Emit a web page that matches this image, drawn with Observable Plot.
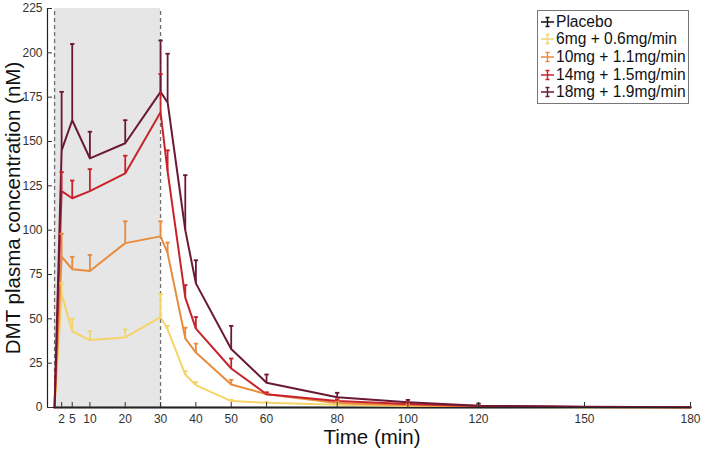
<!DOCTYPE html>
<html>
<head>
<meta charset="utf-8">
<script src="https://cdn.jsdelivr.net/npm/d3@7"></script>
<script src="https://cdn.jsdelivr.net/npm/@observablehq/plot@0.6"></script>
<style>
  html, body { margin: 0; padding: 0; background: #fff; }
  #wrap { position: relative; width: 706px; height: 455px; font-family: "Liberation Sans", Arial, Helvetica, sans-serif; }
  #legend { position: absolute; left: 537px; top: 10px; width: 150px; border: 1px solid #777; background: #fff; padding: 2px 0 2px 0; }
  #legend .row { display: flex; align-items: center; height: 17.6px; font-size: 15.6px; color: #111; white-space: nowrap; }
  #legend svg { margin: 0 1px 0 2px; }
</style>
</head>
<body>
<div id="wrap"><div id="chart"></div><div id="legend"></div></div>
<script>
// ---- data ----
const times = [0, 2, 5, 10, 20, 30, 32, 37, 40, 50, 60, 80, 100, 120, 150, 180];
const seriesNames = ["Placebo", "6mg + 0.6mg/min", "10mg + 1.1mg/min", "14mg + 1.5mg/min", "18mg + 1.9mg/min"];
const seriesColors = ["#111111", "#f4d468", "#e98a3c", "#c8232c", "#6b1834"];
const placebo     = [0, 0, 0, 0, 0, 0, 0, 0, 0, 0, 0, 0, 0, 0, 0, 0];
const placeboErr  = [null, null, null, null, null, null, null, null, null, null, null, null, null, null, null, null];
const dose6       = [0, 64, 43, 38, 39.5, 51, 44, 18.6, 12.6, 3.6, 2.7, 1.5, 0.8, 0.4, 0.2, 0.1];
const dose6Err    = [null, 70, 50, 43, 44, 64, 46, 20.5, 14.3, 4.3, 3.1, 2, null, null, null, null];
const dose10      = [0, 85, 78, 77, 92.7, 96.5, 87, 39, 31, 13, 7.5, 2.5, 1.3, 0.6, 0.3, 0.2];
const dose10Err   = [null, 98, 85, 86, 105, 105, 93, 45, 36, 15.6, 8.5, 3.2, 1.8, null, null, null];
const dose14      = [0, 122, 118, 122, 132, 166.5, 133, 62, 44.5, 22, 7.5, 3.6, 2, 0.8, 0.3, 0.2];
const dose14Err   = [null, 132.7, 128, 134.4, 142, 188, 145, 69, 51, 27.6, 8.5, 4.6, 3, 1.2, null, null];
const dose18      = [0, 145, 162, 140.5, 149, 178, 172, 100, 70, 33, 14, 5.8, 3, 1, 0.4, 0.2];
const dose18Err   = [null, 178, 205, 155.5, 162, 207, 199.5, 131, 83, 46, 18.6, 8.3, 4.3, 2.2, null, null];
const xTicks = [2, 5, 10, 20, 30, 40, 50, 60, 80, 100, 120, 150, 180];
const yTicks = [0, 25, 50, 75, 100, 125, 150, 175, 200, 225];
const infusion = [0, 30];
const xDomain = [-2, 180];
const yDomain = [0, 225];
const xLabel = "Time (min)";
const yLabel = "DMT plasma concentration (nM)";

// ---- build table ----
const allValues = [placebo, dose6, dose10, dose14, dose18];
const allErr = [placeboErr, dose6Err, dose10Err, dose14Err, dose18Err];
const rows = [];
seriesNames.forEach((s, i) => {
  times.forEach((t, j) => rows.push({series: s, t, v: allValues[i][j], err: allErr[i][j]}));
});
const errRows = rows.filter(d => d.err != null);

const capSymbol = { draw(ctx, size) { const r = Math.sqrt(size / Math.PI); ctx.moveTo(-r, 0); ctx.lineTo(r, 0); } };

const font = '"Liberation Sans", Arial, Helvetica, sans-serif';

const chart = Plot.plot({
  width: 706,
  height: 455,
  marginLeft: 47,
  marginRight: 16,
  marginTop: 8,
  marginBottom: 48,
  style: { fontFamily: font, background: "#fff", overflow: "visible" },
  x: { domain: xDomain },
  y: { domain: yDomain },
  color: { domain: seriesNames, range: seriesColors },
  marks: [
    Plot.rect([infusion], { x1: d => d[0], x2: d => d[1], y1: yDomain[0], y2: yDomain[1], fill: "#e6e6e6" }),
    Plot.ruleX(infusion, { y1: yDomain[0], y2: yDomain[1], stroke: "#6f6f6f", strokeWidth: 1.3, strokeDasharray: "4,3" }),
    Plot.line(rows, { x: "t", y: "v", z: "series", stroke: "series", strokeWidth: 2 }),
    Plot.ruleX(errRows, { x: "t", y1: "v", y2: "err", stroke: "series", strokeWidth: 1.8 }),
    Plot.dot(errRows, { x: "t", y: "err", stroke: "series", symbol: capSymbol, r: 2.2, strokeWidth: 1.8 }),
    Plot.ruleX([xDomain[0]], { y1: yDomain[0], y2: yDomain[1], stroke: "#222", strokeWidth: 1.2 }),
    Plot.ruleY([yDomain[0]], { x1: xDomain[0], x2: xDomain[1], stroke: "#222", strokeWidth: 1.2 }),
    Plot.axisX({ ticks: xTicks, tickSize: -5, tickPadding: 12, fontSize: 12, color: "#333", label: null }),
    Plot.axisY({ ticks: yTicks, tickSize: -5, tickPadding: 10, fontSize: 12, color: "#333", label: null }),
    Plot.text([xLabel], { frameAnchor: "bottom", textAnchor: "middle", dy: 36, dx: 3, fontSize: 20.5, fill: "#111" }),
    Plot.text([yLabel], { frameAnchor: "left", textAnchor: "middle", rotate: -90, dx: -34, fontSize: 20.5, fill: "#111" })
  ]
});
document.getElementById("chart").appendChild(chart);

// ---- legend ----
const legend = document.getElementById("legend");
seriesNames.forEach((s, i) => {
  const row = document.createElement("div");
  row.className = "row";
  const c = seriesColors[i];
  row.innerHTML = `<svg width="15" height="14" viewBox="0 0 15 14"><path d="M1,7H14M7.5,2.5V11.5M5.5,2.5H9.5M5.5,11.5H9.5" stroke="${c}" stroke-width="1.4" fill="none"/></svg><span>${s}</span>`;
  legend.appendChild(row);
});
</script>
</body>
</html>
